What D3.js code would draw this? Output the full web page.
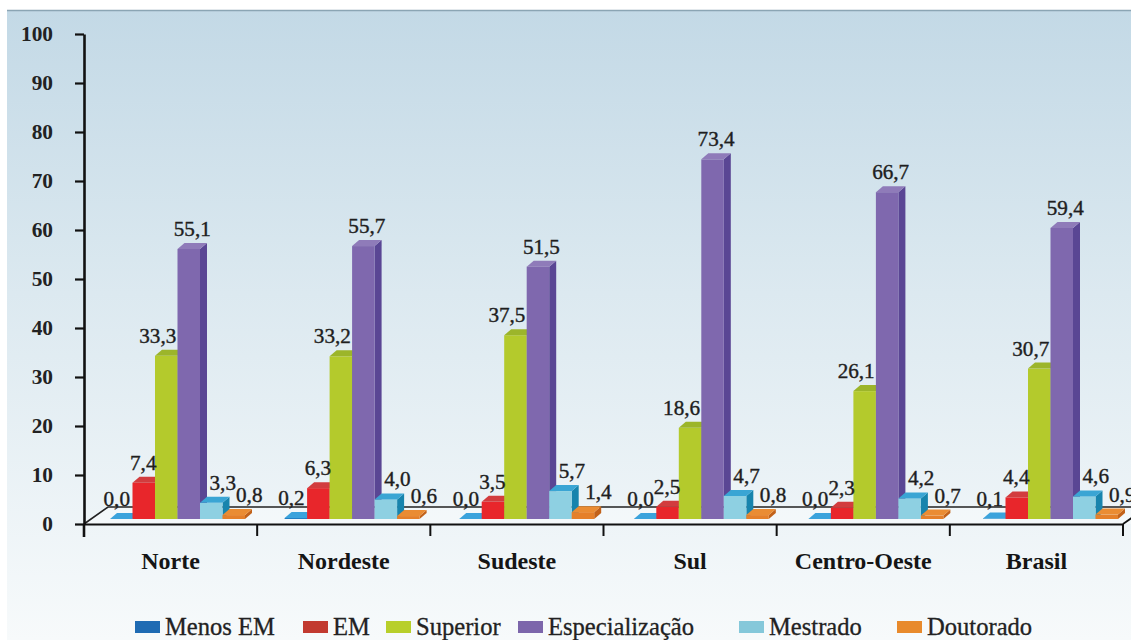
<!DOCTYPE html>
<html>
<head>
<meta charset="utf-8">
<script src="https://cdn.jsdelivr.net/npm/d3@7"></script>
<style>
  html, body { margin: 0; padding: 0; background: #ffffff; }
  svg { display: block; }
</style>
</head>
<body>
<script>
// ---------- DATA ----------
const categories = ["Norte", "Nordeste", "Sudeste", "Sul", "Centro-Oeste", "Brasil"];
const seriesNames = ["Menos EM", "EM", "Superior", "Especialização", "Mestrado", "Doutorado"];
const menosEM        = [0.0, 0.2, 0.0, 0.0, 0.0, 0.1];
const em             = [7.4, 6.3, 3.5, 2.5, 2.3, 4.4];
const superior       = [33.3, 33.2, 37.5, 18.6, 26.1, 30.7];
const especializacao = [55.1, 55.7, 51.5, 73.4, 66.7, 59.4];
const mestrado       = [3.3, 4.0, 5.7, 4.7, 4.2, 4.6];
const doutorado      = [0.8, 0.6, 1.4, 0.8, 0.7, 0.9];
const yTicks = [0, 10, 20, 30, 40, 50, 60, 70, 80, 90, 100];

// ---------- STYLE / LAYOUT ----------
const seriesValues = [menosEM, em, superior, especializacao, mestrado, doutorado];
const faceFront = ["#1e7dc2", "#e8262b", "#b4ca2c", "#7f68ae", "#8ed0e2", "#e5802a"];
const faceTop   = ["#3ba3dc", "#d23c3e", "#9cb52a", "#8f7bb9", "#3aa5d4", "#ea8c33"];
const faceSide  = ["#15609a", "#b01c20", "#8aa020", "#5a4694", "#1784ad", "#c2621a"];
const legendColors = ["#1f6bb3", "#c23a30", "#b8cf2b", "#7c66ab", "#85c8da", "#e88a2c"];
const labelNudge = [-8, -4, -12, 0, 8, 12];
const legendX = [135, 303, 386, 518, 739, 897];
const FONT = '"Liberation Serif", "Times New Roman", serif';

const W = 1131, H = 640;
const svg = d3.select("body").append("svg").attr("width", W).attr("height", H);

function fitSize(sample, targetWidth, weight) {
  const t = svg.append("text").style("font-family", FONT).style("font-size", "100px")
    .style("font-weight", weight || "normal").text(sample);
  const len = t.node().getComputedTextLength();
  t.remove();
  return len > 0 ? 100 * targetWidth / len : 20;
}
const sizeLegend = fitSize("Menos EM", 110, "normal");
const sizeCat = fitSize("Nordeste", 92, "bold");
const sizeTick = fitSize("100", 32, "bold");
const sizeLabel = fitSize("55,1", 37, "normal");

function styleText(sel, size, weight, color, heavy) {
  sel.style("font-family", FONT).style("font-size", size + "px")
    .style("font-weight", weight).attr("fill", color);
  if (heavy) sel.attr("stroke", color).attr("stroke-width", heavy).attr("paint-order", "stroke");
  return sel;
}

const defs = svg.append("defs");
const grad = defs.append("linearGradient").attr("id", "bg").attr("x1", 0).attr("y1", 0).attr("x2", 0).attr("y2", 1);
grad.append("stop").attr("offset", "0%").attr("stop-color", "#c3d9e6");
grad.append("stop").attr("offset", "45%").attr("stop-color", "#dce9f0");
grad.append("stop").attr("offset", "100%").attr("stop-color", "#f7fafb");

svg.append("rect").attr("x", 0).attr("y", 0).attr("width", W).attr("height", H).attr("fill", "#ffffff");
svg.append("rect").attr("x", 7).attr("y", 10).attr("width", W - 7).attr("height", H - 10).attr("fill", "url(#bg)");
svg.append("line").attr("x1", 7).attr("x2", W).attr("y1", 10.5).attr("y2", 10.5)
  .attr("stroke", "#8ba5b4").attr("stroke-width", 1.5);

// ---------- SCALES ----------
const y = d3.scaleLinear().domain([0, 100]).range([524, 34]);
const xAxisScale = d3.scaleBand().domain(categories).range([84, 1123]);
const xGroup = d3.scaleBand().domain(categories).range([110, 110 + 6 * 174.6]);
const xInner = d3.scaleBand().domain(seriesNames).range([0, 135]);
const DX = 7, DY = 6, LIFT = 5;
const floorDX = 24, floorDY = 17;

// ---------- FLOOR ----------
const y0 = y(0);
svg.append("path")
  .attr("d", `M84,${y0} L${84 + floorDX},${y0 - floorDY} L${W},${y0 - floorDY} L${W},${y0} Z`)
  .attr("fill", "rgba(255,255,255,0.35)");
svg.append("path")
  .attr("d", `M84,${y0} L${84 + floorDX},${y0 - floorDY} L${W},${y0 - floorDY}`)
  .attr("fill", "none").attr("stroke", "#222").attr("stroke-width", 1.6);

// ---------- BARS ----------
const barsG = svg.append("g");
categories.forEach((c, i) => {
  seriesNames.forEach((s, j) => {
    const v = seriesValues[j][i];
    const x0 = xGroup(c) + xInner(s);
    const w = xInner.bandwidth();
    const yT = y(v) - LIFT;
    const yB = y(0) - LIFT;
    const g = barsG.append("g");
    g.append("path")
      .attr("d", `M${x0 + w},${yT} L${x0 + w + DX},${yT - DY} L${x0 + w + DX},${yB - DY} L${x0 + w},${yB} Z`)
      .attr("fill", faceSide[j]);
    g.append("rect").attr("x", x0).attr("y", yT).attr("width", w).attr("height", Math.max(0, yB - yT))
      .attr("fill", faceFront[j]);
    g.append("path")
      .attr("d", `M${x0},${yT} L${x0 + DX},${yT - DY} L${x0 + w + DX},${yT - DY} L${x0 + w},${yT} Z`)
      .attr("fill", faceTop[j]);
  });
});

// ---------- DATA LABELS ----------
const fmt = v => v.toFixed(1).replace(".", ",");
categories.forEach((c, i) => {
  seriesNames.forEach((s, j) => {
    const v = seriesValues[j][i];
    const x0 = xGroup(c) + xInner(s);
    const w = xInner.bandwidth();
    styleText(svg.append("text"), sizeLabel, "normal", "#1e1e1e", 0.4)
      .attr("x", x0 + w / 2 + DX / 2 + labelNudge[j])
      .attr("y", y(v) - LIFT - DY - 7)
      .attr("text-anchor", "middle")
      .text(fmt(v));
  });
});

// ---------- Y AXIS ----------
const yAxis = d3.axisLeft(y).tickValues(yTicks).tickSize(9).tickSizeOuter(0).tickPadding(22)
  .tickFormat(d3.format("d"));
const yg = svg.append("g").attr("transform", "translate(84,0)").call(yAxis);
yg.select(".domain").attr("stroke", "#111").attr("stroke-width", 2.6);
yg.selectAll(".tick line").attr("stroke", "#111").attr("stroke-width", 2.2);
styleText(yg.selectAll(".tick text"), sizeTick, "bold", "#222");
svg.append("line").attr("x1", 84).attr("x2", 84).attr("y1", y0).attr("y2", y0 + 13)
  .attr("stroke", "#111").attr("stroke-width", 2.6);

// ---------- X AXIS ----------
const xAxis = d3.axisBottom(xAxisScale).tickSize(0).tickSizeOuter(0).tickPadding(0).tickFormat("");
const xg = svg.append("g").attr("transform", `translate(0,${y0})`).call(xAxis);
xg.select(".domain").attr("stroke", "#111").attr("stroke-width", 2);
categories.forEach(c => {
  const xb = xAxisScale(c) + xAxisScale.bandwidth();
  svg.append("line").attr("x1", xb).attr("x2", xb).attr("y1", y0).attr("y2", y0 + 12)
    .attr("stroke", "#111").attr("stroke-width", 2);
});
const xEnd = xAxisScale.range()[1];
svg.append("path")
  .attr("d", `M${xEnd},${y0} L${xEnd + floorDX},${y0 - floorDY}`)
  .attr("fill", "none").attr("stroke", "#111").attr("stroke-width", 1.8);

categories.forEach(c => {
  styleText(svg.append("text"), sizeCat, "bold", "#151515")
    .attr("x", xAxisScale(c) + xAxisScale.bandwidth() / 2)
    .attr("y", 569)
    .attr("text-anchor", "middle")
    .text(c);
});

// ---------- LEGEND ----------
seriesNames.forEach((s, j) => {
  svg.append("rect").attr("x", legendX[j]).attr("y", 621).attr("width", 25).attr("height", 12)
    .attr("fill", legendColors[j]);
  styleText(svg.append("text"), sizeLegend, "normal", "#222", 0.3)
    .attr("x", legendX[j] + 30).attr("y", 635)
    .text(s);
});
</script>
</body>
</html>
